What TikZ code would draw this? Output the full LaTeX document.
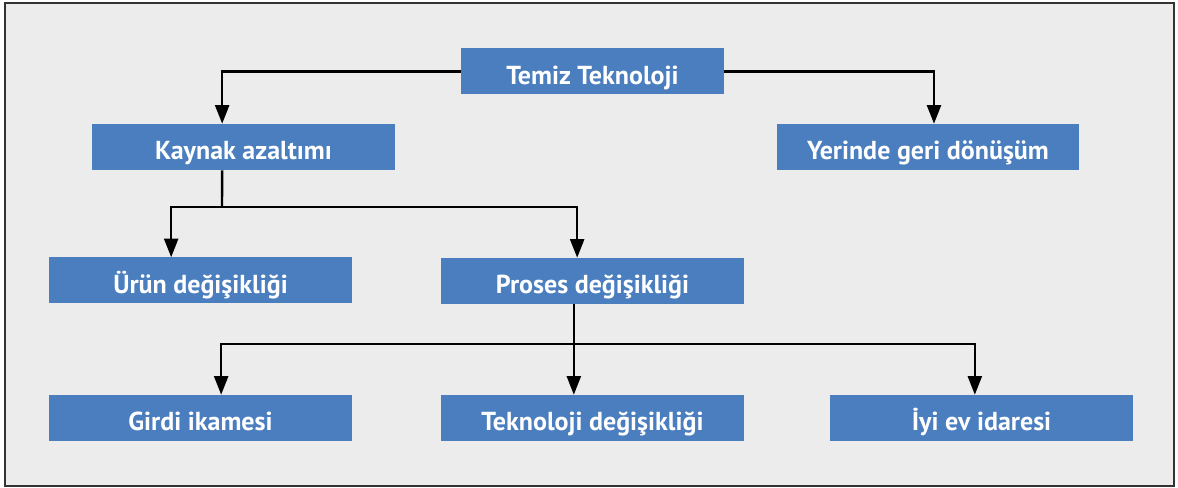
\documentclass[tikz,border=0pt]{standalone}
\usepackage{fontspec}
\setmainfont{PT Sans}
\usetikzlibrary{arrows.meta}
\definecolor{boxblue}{HTML}{4A7EBF}
\definecolor{panelgray}{HTML}{ECECEC}

\begin{document}
\begin{tikzpicture}[x=0.75pt,y=-0.75pt,
  blok/.style={fill=boxblue,text=white,font=\bfseries\fontsize{19.5}{22}\selectfont,
    minimum width=227pt,minimum height=34.5pt,inner sep=0pt,
    text height=19pt,text depth=0pt},
  ok/.style={line width=1.8pt,-{Triangle[length=14pt,width=10.5pt]}},
  hat/.style={line width=1.8pt}
]
\useasboundingbox (0,0) rectangle (1178,488);
\draw[fill=panelgray,draw=black!80,line width=1.5pt] (5,3) rectangle (1174,486);

\node[blok,minimum width=197pt] (temiz) at (592.5,71.5) {Temiz Teknoloji};
\node[blok] (kaynak) at (243.5,147) {Kaynak azaltımı};
\node[blok] (yerinde) at (928,147) {Yerinde geri dönüşüm};
\node[blok] (urun) at (200.5,280.5) {Ürün değişikliği};
\node[blok] (proses) at (592.5,281) {Proses değişikliği};
\node[blok] (girdi) at (200.5,418) {Girdi ikamesi};
\node[blok] (teknoloji) at (592.5,418) {Teknoloji değişikliği};
\node[blok] (iyi) at (981.5,418) {İyi ev idaresi};

% ust seviye
\draw[ok] (temiz.west) -| ([xshift=-16pt]kaynak.north);
\draw[ok] (temiz.east) -| ([xshift=4.5pt]yerinde.north);

% kaynak azaltimi
\coordinate (k) at (222,207);
\draw[hat] ([xshift=-16pt]kaynak.south) -- (k);
\draw[ok] (k) -| ([xshift=-22pt]urun.north);
\draw[ok] (k) -| ([xshift=-11.5pt]proses.north);

% proses degisikligi
\coordinate (p) at (574,344);
\draw[ok] ([xshift=-14pt]proses.south) -- ([xshift=-14pt]teknoloji.north);
\draw[ok] (p) -| ([xshift=15.5pt]girdi.north);
\draw[ok] (p) -| ([xshift=-5pt]iyi.north);
\end{tikzpicture}
\end{document}
